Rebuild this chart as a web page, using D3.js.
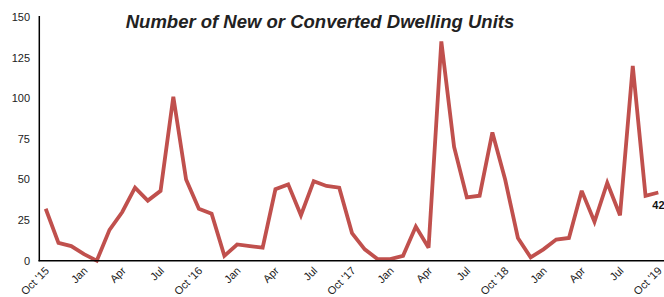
<!DOCTYPE html>
<html><head><meta charset="utf-8">
<script src="https://cdn.jsdelivr.net/npm/d3@7"></script>
<style>body{margin:0;background:#fff}svg{display:block}</style>
</head><body>
<svg id="c" width="664" height="297"></svg>
<script>
const months = ["Oct '15","Nov","Dec","Jan","Feb","Mar","Apr","May","Jun","Jul","Aug","Sep",
"Oct '16","Nov","Dec","Jan","Feb","Mar","Apr","May","Jun","Jul","Aug","Sep",
"Oct '17","Nov","Dec","Jan","Feb","Mar","Apr","May","Jun","Jul","Aug","Sep",
"Oct '18","Nov","Dec","Jan","Feb","Mar","Apr","May","Jun","Jul","Aug","Sep","Oct '19"];
const units = [32,11,9,4,0,19,30,45,37,43,101,50,
32,29,3,10,9,8,44,47,28,49,46,45,
17,7,1,1,3,21,8,135,70,39,40,79,
50,14,2,7,13,14,43,24,48,28,120,40,42];
const yTicks = [0,25,50,75,100,125,150];
const title = "Number of New or Converted Dwelling Units";

const svg = d3.select("#c");
const x0 = 45.7, x1 = 658.3, yBase = 260.7, yTop = 17.1;
const x = d3.scalePoint().domain(d3.range(months.length)).range([x0, x1]);
const y = d3.scaleLinear().domain([0,150]).range([yBase, yTop]);
const font = "'Liberation Sans', Arial, sans-serif";

// y labels
svg.append("g").selectAll("text").data(yTicks).join("text")
  .attr("x", 30).attr("y", d => y(d)).attr("dy", "0.35em")
  .attr("text-anchor","end").attr("font-family",font).attr("font-size",11).attr("fill","#222")
  .text(d => d);

// line
svg.append("path").datum(units)
  .attr("fill","none").attr("stroke","#C0504D").attr("stroke-width",3.8)
  .attr("stroke-linejoin","miter").attr("stroke-miterlimit",3)
  .attr("d", d3.line().x((d,i)=>x(i)).y(d=>y(d)));

// axes lines
svg.append("line").attr("x1",39.3).attr("x2",39.3).attr("y1",16).attr("y2",yBase+0.5)
  .attr("stroke","#000").attr("stroke-width",1.5);
svg.append("line").attr("x1",38.5).attr("x2",664).attr("y1",yBase).attr("y2",yBase)
  .attr("stroke","#000").attr("stroke-width",1.5);

// x labels
const xl = svg.append("g");
months.forEach((m,i)=>{
  if (i % 3 !== 0) return;
  xl.append("text")
    .attr("transform", `translate(${x(i)+1.5},${yBase+8}) rotate(-45)`)
    .attr("text-anchor","end").attr("dy","0.35em")
    .attr("font-family",font).attr("font-size",11).attr("fill","#222")
    .text(m);
});

// end label
svg.append("text").attr("x", x(months.length-1)-6).attr("y", y(units[units.length-1])+17)
  .attr("font-family",font).attr("font-size",11).attr("font-weight","bold").attr("fill","#111")
  .text(units[units.length-1]);

// title
svg.append("text").attr("x",320).attr("y",28).attr("text-anchor","middle")
  .attr("font-family",font).attr("font-size",18.5).attr("font-weight","bold").attr("font-style","italic")
  .attr("fill","#222").text(title);
</script>
</body></html>
